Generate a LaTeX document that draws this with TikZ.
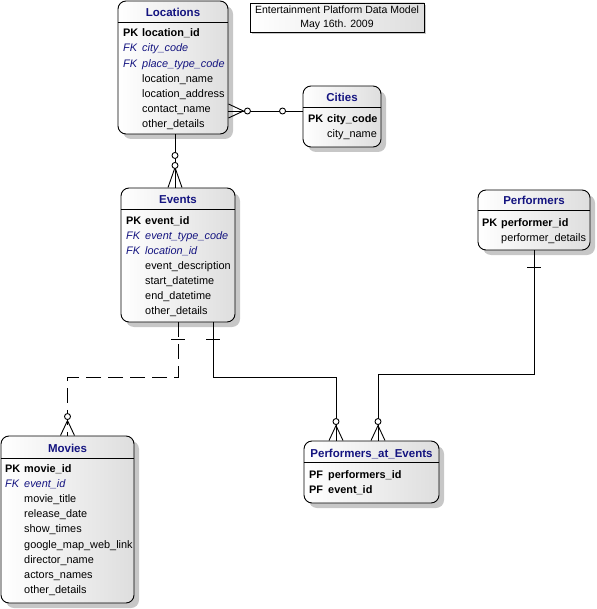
\documentclass[tikz,border=0pt]{standalone}
\usepackage{fontspec}
\setmainfont{Liberation Sans}
\usetikzlibrary{shadows}

\definecolor{TitleColor}{rgb}{0.08,0.08,0.5}
\definecolor{EntityShade}{rgb}{0.87,0.87,0.87}
\tikzstyle{entity-base}=[rectangle,
                          draw=black,
                          line width=0.9pt,
                          left color=white,
                          right color=EntityShade,
                         ]
\tikzstyle{entity}=[entity-base,
                     rounded corners=8pt,
                     drop shadow={shadow xshift=5pt, shadow yshift=-5pt, fill=black!22, opacity=1}]
\tikzstyle{model-note}=[entity-base,
                         line width=0.7pt,
                         align=center, inner sep=0pt,
                         font=\fontsize{10.5}{14}\selectfont,
                         drop shadow={shadow xshift=2pt, shadow yshift=-2pt, fill=black!22, opacity=1}]
\tikzstyle{entity-title}=[inner sep=0pt, text=TitleColor, text height=8.5pt, text depth=0.2pt,
                           font=\fontsize{11.5}{13}\selectfont\bfseries]
\tikzstyle{attr}=[anchor=west, inner sep=0pt, text height=11.6pt, text depth=2pt,
                   font=\fontsize{10.9}{13}\selectfont]
\tikzstyle{attr-key}=[attr, font=\fontsize{10.9}{13}\selectfont\bfseries]
\tikzstyle{attr-fk}=[attr, text=TitleColor, font=\fontsize{10.9}{13}\selectfont\itshape]
\tikzstyle{link}=[line width=0.9pt]
\tikzstyle{link-opt}=[link, dash pattern=on 15pt off 7pt]
\tikzstyle{zero}=[link, fill=white]

\begin{document}
\begin{tikzpicture}[x=1pt, y=1pt]
    \useasboundingbox (0,0) rectangle (596,-609);

    % Note
    % --------------------------------------------------------------------------
    \node at (337,-17.5) (model_note) [model-note, minimum width=174pt, minimum height=29pt]
          {Entertainment Platform Data Model\\May 16th. 2009};

    % Entities
    % --------------------------------------------------------------------------
    \node at (173,  -67.5) (locations)  [entity, minimum width=110pt, minimum height=133pt] {};
    \node at (342, -116.5) (cities)     [entity, minimum width=78pt,  minimum height=61pt]  {};
    \node at (178, -255)   (events)     [entity, minimum width=114pt, minimum height=134pt] {};
    \node at (534, -220)   (performers) [entity, minimum width=112pt, minimum height=60pt]  {};
    \node at (67.5,-519.5) (movies)     [entity, minimum width=133pt, minimum height=167pt] {};
    \node at (371.5,-472)  (pae)        [entity, minimum width=135pt, minimum height=62pt]  {};

    \draw[link] ([yshift=-22pt]locations.north west)  -- ([yshift=-22pt]locations.north east);
    \draw[link] ([yshift=-22pt]cities.north west)     -- ([yshift=-22pt]cities.north east);
    \draw[link] ([yshift=-22pt]events.north west)     -- ([yshift=-22pt]events.north east);
    \draw[link] ([yshift=-21pt]performers.north west) -- ([yshift=-21pt]performers.north east);
    \draw[link] ([yshift=-23pt]movies.north west)     -- ([yshift=-23pt]movies.north east);
    \draw[link] ([yshift=-22pt]pae.north west)        -- ([yshift=-22pt]pae.north east);

    % Locations
    \node at (173, -12) (locations_title) [entity-title] {Locations};
    \node at (123, -32) (locations_row1) [attr-key] {\makebox[19pt][l]{PK}location\_id};
    \node at (123, -47) (locations_row2) [attr-fk]  {\makebox[19pt][l]{FK}city\_code};
    \node at (123, -63) (locations_row3) [attr-fk]  {\makebox[19pt][l]{FK}place\_type\_code};
    \node at (142, -78) (locations_row4) [attr] {location\_name};
    \node at (142, -93) (locations_row5) [attr] {location\_address};
    \node at (142,-108) (locations_row6) [attr] {contact\_name};
    \node at (142,-123) (locations_row7) [attr] {other\_details};

    % Cities
    \node at (342, -97) (cities_title) [entity-title] {Cities};
    \node at (308,-118) (cities_row1) [attr-key] {\makebox[19pt][l]{PK}city\_code};
    \node at (327,-133) (cities_row2) [attr] {city\_name};

    % Events
    \node at (178,-199) (events_title) [entity-title] {Events};
    \node at (126,-220) (events_row1) [attr-key] {\makebox[19pt][l]{PK}event\_id};
    \node at (126,-235) (events_row2) [attr-fk]  {\makebox[19pt][l]{FK}event\_type\_code};
    \node at (126,-250) (events_row3) [attr-fk]  {\makebox[19pt][l]{FK}location\_id};
    \node at (145,-265) (events_row4) [attr] {event\_description};
    \node at (145,-280) (events_row5) [attr] {start\_datetime};
    \node at (145,-295) (events_row6) [attr] {end\_datetime};
    \node at (145,-310) (events_row7) [attr] {other\_details};

    % Performers
    \node at (534,-200) (performers_title) [entity-title] {Performers};
    \node at (482,-222) (performers_row1) [attr-key] {\makebox[19pt][l]{PK}performer\_id};
    \node at (501,-237) (performers_row2) [attr] {performer\_details};

    % Movies
    \node at (67.5,-448) (movies_title) [entity-title] {Movies};
    \node at (5, -468) (movies_row1) [attr-key] {\makebox[19pt][l]{PK}movie\_id};
    \node at (5, -483) (movies_row2) [attr-fk]  {\makebox[19pt][l]{FK}event\_id};
    \node at (24,-498) (movies_row3) [attr] {movie\_title};
    \node at (24,-513) (movies_row4) [attr] {release\_date};
    \node at (24,-528) (movies_row5) [attr] {show\_times};
    \node at (24,-544) (movies_row6) [attr] {google\_map\_web\_link};
    \node at (24,-559) (movies_row7) [attr] {director\_name};
    \node at (24,-574) (movies_row8) [attr] {actors\_names};
    \node at (24,-589) (movies_row9) [attr] {other\_details};

    % Performers_at_Events
    \node at (371.5,-453) (pae_title) [entity-title] {Performers\_at\_Events};
    \node at (309,-474) (pae_row1) [attr-key] {\makebox[19pt][l]{PF}performers\_id};
    \node at (309,-489) (pae_row2) [attr-key] {\makebox[19pt][l]{PF}event\_id};

    % Relationships
    % --------------------------------------------------------------------------
    % Locations -- Cities
    \draw[link] ([yshift=-43.5pt]locations.east) -- ([yshift=5.5pt]cities.west);
    \draw[link] ([yshift=-36.5pt]locations.east) -- ([xshift=15pt,yshift=-43.5pt]locations.east)
                                                 -- ([yshift=-50.5pt]locations.east);
    \draw[zero] ([xshift=19pt,yshift=-43.5pt]locations.east) circle (3pt);
    \draw[zero] ([xshift=-20pt,yshift=5.5pt]cities.west) circle (3pt);

    % Locations -- Events
    \coordinate (events_loc_link) at ([xshift=2pt]locations.south |- events.north);
    \draw[link] ([xshift=2pt]locations.south) -- (events_loc_link);
    \draw[link] ([xshift=-7pt]events_loc_link) -- ([yshift=20pt]events_loc_link) -- ([xshift=7pt]events_loc_link);
    \draw[zero] ([xshift=2pt,yshift=-21pt]locations.south) circle (3pt);
    \draw[zero] ([xshift=2pt,yshift=-31pt]locations.south) circle (3pt);

    % Events -- Movies
    \draw[link-opt] (events.south) -- ++(0,-55) -| (movies.north);
    \draw[link] ([xshift=-7pt,yshift=-17pt]events.south) -- ++(14,0);
    \draw[link] ([xshift=-7pt]movies.north) -- ([yshift=15pt]movies.north) -- ([xshift=7pt]movies.north);
    \draw[zero] ([yshift=19pt]movies.north) circle (3pt);

    % Events -- Performers_at_Events
    \draw[link] ([xshift=35pt]events.south) -- ++(0,-55) -| ([xshift=-35.5pt]pae.north);
    \draw[link] ([xshift=28pt,yshift=-17pt]events.south) -- ++(14,0);
    \draw[link] ([xshift=-42.5pt]pae.north) -- ([xshift=-35.5pt,yshift=15pt]pae.north) -- ([xshift=-28.5pt]pae.north);
    \draw[zero] ([xshift=-35.5pt,yshift=19pt]pae.north) circle (3pt);

    % Performers -- Performers_at_Events
    \draw[link] (performers.south) -- ++(0,-124) -| ([xshift=6.5pt]pae.north);
    \draw[link] ([xshift=-7pt,yshift=-17pt]performers.south) -- ++(14,0);
    \draw[link] ([xshift=-0.5pt]pae.north) -- ([xshift=6.5pt,yshift=15pt]pae.north) -- ([xshift=13.5pt]pae.north);
    \draw[zero] ([xshift=6.5pt,yshift=19pt]pae.north) circle (3pt);
\end{tikzpicture}
\end{document}
